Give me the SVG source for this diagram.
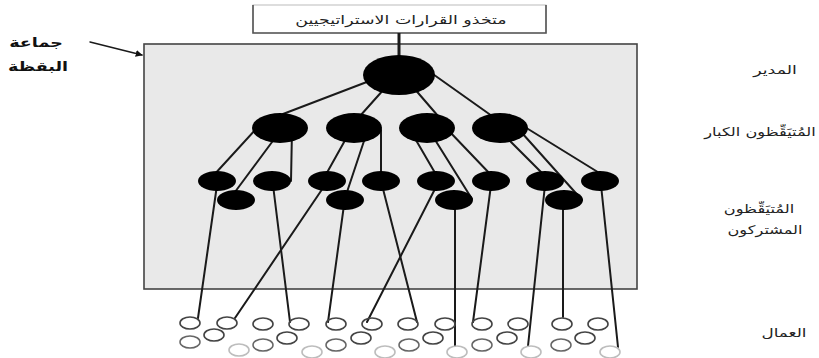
<svg xmlns="http://www.w3.org/2000/svg" width="819" height="358" viewBox="0 0 819 358">
<style>
.t{font-family:"DejaVu Sans","Noto Sans",sans-serif;font-size:12px;fill:#222;text-anchor:middle}
.b{font-weight:bold;font-size:13px;fill:#111}
.con line{stroke:#1a1a1a;stroke-width:2;stroke-linecap:round}
.n{fill:#000}
.w{fill:none;stroke:#444;stroke-width:1.6}
.wm{fill:none;stroke:#666;stroke-width:1.5}
.wl{fill:none;stroke:#bdbdbd;stroke-width:1.6}
</style>
<defs>
<marker id="ah" viewBox="0 0 10 10" refX="9" refY="5" markerWidth="7" markerHeight="7" orient="auto" markerUnits="userSpaceOnUse">
<path d="M0,0 L10,5 L0,10 z" fill="#111"/>
</marker>
</defs>
<rect width="819" height="358" fill="#fff"/>
<g id="group">
<rect x="144" y="44" width="493" height="245" fill="#e9e9e9" stroke="#444" stroke-width="1.6"/>
</g>
<g id="top-box">
<rect x="253" y="5" width="293" height="28" fill="#fff" stroke="#bbb" stroke-width="1"/>
<path d="M253,5 V33 H546 V5" fill="none" stroke="#555" stroke-width="1.6"/>
<text class="t" transform="translate(401,24) scale(1.45,1)" font-size="13">متخذو القرارات الاستراتيجيين</text>
</g>
<g id="labels">
<text class="t b" transform="translate(36,47) scale(1.35,1)">جماعة</text>
<text class="t b" transform="translate(38,71) scale(1.35,1)">البقظة</text>
<text class="t" transform="translate(775,74) scale(1.45,1)">المدير</text>
<text class="t" transform="translate(760,136) scale(1.35,1)">المُتيَقِّظون الكبار</text>
<text class="t" transform="translate(759,213) scale(1.35,1)">المُتيَقِّظون</text>
<text class="t" transform="translate(765,234) scale(1.35,1)">المشتركون</text>
<text class="t" transform="translate(784,337) scale(1.4,1)">العمال</text>
</g>
<g id="connectors" class="con">
<line x1="90" y1="42" x2="142" y2="55" marker-end="url(#ah)" style="stroke-width:1.5"/>
<line x1="399" y1="33" x2="399" y2="58" style="stroke-width:3;stroke-linecap:butt"/>
<line x1="372" y1="80" x2="283" y2="114"/>
<line x1="385" y1="88" x2="360" y2="116"/>
<line x1="413" y1="87" x2="438" y2="116"/>
<line x1="430" y1="72" x2="492" y2="116"/>
<line x1="257" y1="128" x2="213" y2="176"/>
<line x1="275" y1="138" x2="232" y2="196"/>
<line x1="292" y1="130" x2="291" y2="181"/>
<line x1="348" y1="135" x2="324" y2="178"/>
<line x1="366" y1="135" x2="345" y2="198"/>
<line x1="381" y1="130" x2="381" y2="178"/>
<line x1="413" y1="135" x2="438" y2="178"/>
<line x1="432" y1="135" x2="472" y2="199"/>
<line x1="448" y1="130" x2="492" y2="176"/>
<line x1="505" y1="136" x2="546" y2="177"/>
<line x1="522" y1="133" x2="582" y2="200"/>
<line x1="520" y1="124" x2="601" y2="174"/>
<line x1="217" y1="185" x2="198" y2="318"/>
<line x1="325" y1="185" x2="235" y2="318"/>
<line x1="273" y1="185" x2="290" y2="322"/>
<line x1="344" y1="205" x2="328" y2="322"/>
<line x1="437" y1="185" x2="367" y2="322"/>
<line x1="382" y1="185" x2="417" y2="322"/>
<line x1="455" y1="205" x2="455" y2="346"/>
<line x1="491" y1="185" x2="473" y2="322"/>
<line x1="545" y1="185" x2="528" y2="346"/>
<line x1="563" y1="205" x2="563" y2="317"/>
<line x1="601" y1="185" x2="618" y2="347"/>
</g>
<g id="director"><ellipse class="n" cx="399" cy="75" rx="36" ry="20"/></g>
<g id="senior-1"><ellipse class="n" cx="280" cy="128" rx="28" ry="15"/></g>
<g id="senior-2"><ellipse class="n" cx="354" cy="128" rx="28" ry="15"/></g>
<g id="senior-3"><ellipse class="n" cx="427" cy="128" rx="28" ry="15"/></g>
<g id="senior-4"><ellipse class="n" cx="500" cy="128" rx="28" ry="15"/></g>
<g id="joint-1"><ellipse class="n" cx="217" cy="181" rx="19" ry="10"/></g>
<g id="joint-2"><ellipse class="n" cx="272" cy="181" rx="19" ry="10"/></g>
<g id="joint-3"><ellipse class="n" cx="327" cy="181" rx="19" ry="10"/></g>
<g id="joint-4"><ellipse class="n" cx="381" cy="181" rx="19" ry="10"/></g>
<g id="joint-5"><ellipse class="n" cx="436" cy="181" rx="19" ry="10"/></g>
<g id="joint-6"><ellipse class="n" cx="491" cy="181" rx="19" ry="10"/></g>
<g id="joint-7"><ellipse class="n" cx="545" cy="181" rx="19" ry="10"/></g>
<g id="joint-8"><ellipse class="n" cx="600" cy="181" rx="19" ry="10"/></g>
<g id="joint-9"><ellipse class="n" cx="236" cy="200" rx="19" ry="10"/></g>
<g id="joint-10"><ellipse class="n" cx="345" cy="200" rx="19" ry="10"/></g>
<g id="joint-11"><ellipse class="n" cx="454" cy="200" rx="19" ry="10"/></g>
<g id="joint-12"><ellipse class="n" cx="564" cy="200" rx="19" ry="10"/></g>
<g id="workers">
<ellipse class="w" cx="190" cy="323" rx="10" ry="6"/>
<ellipse class="w" cx="227" cy="323" rx="10" ry="6"/>
<ellipse class="w" cx="263" cy="324" rx="10" ry="6"/>
<ellipse class="w" cx="299" cy="324" rx="10" ry="6"/>
<ellipse class="w" cx="336" cy="324" rx="10" ry="6"/>
<ellipse class="w" cx="372" cy="324" rx="10" ry="6"/>
<ellipse class="w" cx="408" cy="324" rx="10" ry="6"/>
<ellipse class="w" cx="445" cy="324" rx="10" ry="6"/>
<ellipse class="w" cx="482" cy="324" rx="10" ry="6"/>
<ellipse class="w" cx="518" cy="324" rx="10" ry="6"/>
<ellipse class="w" cx="562" cy="324" rx="10" ry="6"/>
<ellipse class="w" cx="598" cy="324" rx="10" ry="6"/>
<ellipse class="wm" cx="190" cy="342" rx="10" ry="6"/>
<ellipse class="w" cx="214" cy="335" rx="10" ry="6"/>
<ellipse class="wl" cx="239" cy="350" rx="10" ry="6"/>
<ellipse class="wm" cx="263" cy="345" rx="10" ry="6"/>
<ellipse class="w" cx="287" cy="338" rx="10" ry="6"/>
<ellipse class="wl" cx="312" cy="352" rx="10" ry="6"/>
<ellipse class="wm" cx="336" cy="345" rx="10" ry="6"/>
<ellipse class="w" cx="361" cy="338" rx="10" ry="6"/>
<ellipse class="wl" cx="385" cy="352" rx="10" ry="6"/>
<ellipse class="wm" cx="409" cy="345" rx="10" ry="6"/>
<ellipse class="w" cx="433" cy="338" rx="10" ry="6"/>
<ellipse class="wl" cx="457" cy="352" rx="10" ry="6"/>
<ellipse class="wm" cx="482" cy="345" rx="10" ry="6"/>
<ellipse class="w" cx="507" cy="338" rx="10" ry="6"/>
<ellipse class="wl" cx="531" cy="352" rx="10" ry="6"/>
<ellipse class="wm" cx="561" cy="345" rx="10" ry="6"/>
<ellipse class="w" cx="585" cy="338" rx="10" ry="6"/>
<ellipse class="wl" cx="610" cy="352" rx="10" ry="6"/>
</g>
</svg>
